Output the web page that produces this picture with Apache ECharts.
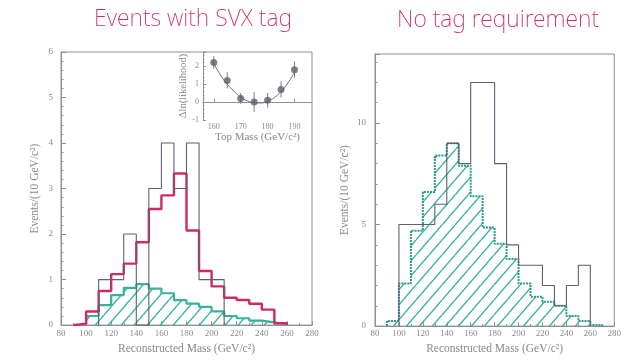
<!DOCTYPE html>
<html>
<head>
<meta charset="utf-8">
<script src="https://cdn.jsdelivr.net/npm/echarts@6/dist/echarts.min.js"></script>
<style>
  html, body { margin: 0; padding: 0; background: #ffffff; }
  #chart { width: 624px; height: 360px; }
</style>
</head>
<body>
<div id="chart"></div>
<script>
// Bin width of every histogram (GeV/c^2)
const BIN = 10;

// Events with an SVX tag: data, signal+background expectation, background
const svxDataStart = 110;
const svxData = [1, 1, 2, 0, 3, 4, 3, 4, 1, 1];
const svxSumStart = 90;
const svxSum = [0.03, 0.3, 0.75, 1.12, 1.35, 1.82, 2.55, 2.85, 3.33, 2.08, 1.19, 0.85, 0.6, 0.55, 0.47, 0.34, 0.04];
const svxBkgStart = 100;
const svxBkg = [0.2, 0.44, 0.66, 0.82, 0.9, 0.8, 0.7, 0.55, 0.47, 0.4, 0.3, 0.2, 0.15, 0.1, 0.06, 0.02];

// Likelihood scan versus top mass
const scanMass = [160, 165, 170, 175, 180, 185, 190];
const scanVal  = [2.2, 1.2, 0.2, 0.0, 0.1, 0.7, 1.8];
const scanErr  = [0.35, 0.45, 0.3, 0.55, 0.4, 0.45, 0.45];
const fitMass  = [160, 162.5, 165, 167.5, 170, 172.5, 175, 177.5, 180, 182.5, 185, 187.5, 190];
const fitVal   = [2.15, 1.5, 1.0, 0.6, 0.28, 0.06, -0.04, -0.05, 0.04, 0.25, 0.58, 1.05, 1.65];

// No tag requirement: data and background
const allDataStart = 100;
const allData = [5, 5, 5, 6, 9, 8, 12, 12, 8, 4, 3, 3, 2, 1, 2, 3];
const allBkgStart = 90;
const allBkg = [0.25, 2.1, 4.7, 6.6, 8.4, 9.0, 7.9, 6.4, 4.85, 4.05, 3.3, 2.1, 1.45, 1.2, 1.0, 0.5, 0.25, 0.05];

// Axis tick values
const massTicks = { min: 80, max: 280, step: 20 };
const scanTicks = [160, 170, 180, 190];

const RED = '#cf2b62';
const TEAL = '#35b39b';
const TEAL_DARK = '#2a9a88';
const OUTLINE = '#5d6072';
const FRAME = '#8d909a';
const TXT = '#8a8a8a';
const SERIF = '"Liberation Serif", "DejaVu Serif", serif';
const HAND = '200 23px "Noto Sans", "DejaVu Sans", sans-serif';

// Turn bin contents into step-line vertices (bin left edges, closed to zero at both ends)
function steps(start, vals) {
  const pts = [[start, 0]];
  vals.forEach((v, i) => pts.push([start + i * BIN, v]));
  pts.push([start + vals.length * BIN, 0]);
  return pts;
}

// Diagonal hatch tile used as an area fill pattern
function hatch(color, w, h, lw) {
  const c = document.createElement('canvas');
  c.width = w; c.height = h;
  const g = c.getContext('2d');
  g.strokeStyle = color;
  g.lineWidth = lw;
  g.beginPath();
  for (const dx of [-w, 0, w]) {
    g.moveTo(dx, h);
    g.lineTo(dx + w, 0);
  }
  g.stroke();
  return c;
}

const tickLabel = { color: TXT, fontFamily: SERIF, fontSize: 9 };
const nameText = { color: TXT, fontFamily: SERIF, fontSize: 11.5 };

function massAxis(gridIndex, labelMargin, nameGap) {
  return {
    type: 'value', gridIndex,
    min: massTicks.min, max: massTicks.max, interval: massTicks.step,
    name: 'Reconstructed Mass (GeV/c²)', nameLocation: 'middle', nameGap,
    nameTextStyle: nameText,
    axisLine: { lineStyle: { color: FRAME, width: 1 } },
    axisTick: { inside: true, length: 4, lineStyle: { color: FRAME } },
    minorTick: { show: true, splitNumber: 2, length: 2, lineStyle: { color: FRAME } },
    axisLabel: Object.assign({ margin: labelMargin }, tickLabel),
    splitLine: { show: false }
  };
}

const chart = echarts.init(document.getElementById('chart'), null, { renderer: 'canvas' });

chart.setOption({
  animation: false,
  backgroundColor: '#ffffff',
  graphic: [
    { type: 'text', x: 193, y: 19, style: { text: 'Events with SVX tag', fill: RED, font: HAND, textAlign: 'center', textVerticalAlign: 'middle' } },
    { type: 'text', x: 498, y: 20, style: { text: 'No tag requirement', fill: RED, font: HAND, textAlign: 'center', textVerticalAlign: 'middle' } }
  ],
  grid: [
    { left: 61, top: 52, width: 251, height: 274, show: true, borderColor: FRAME, borderWidth: 1 },
    { left: 375, top: 54, width: 252, height: 276, show: true, borderColor: FRAME, borderWidth: 1 },
    { left: 203, top: 52, width: 109, height: 68, show: false }
  ],
  xAxis: [
    massAxis(0, 4, 14),
    massAxis(1, 3, 16),
    {
      type: 'value', gridIndex: 2, min: 156, max: 196.5,
      name: 'Top Mass (GeV/c²)', nameLocation: 'middle', nameGap: 12,
      nameTextStyle: { color: TXT, fontFamily: SERIF, fontSize: 11 },
      axisLine: { lineStyle: { color: FRAME } },
      axisTick: { inside: true, length: 3, customValues: scanTicks, lineStyle: { color: FRAME } },
      axisLabel: Object.assign({ margin: 3, customValues: scanTicks }, tickLabel, { fontSize: 8 }),
      splitLine: { show: false }
    }
  ],
  yAxis: [
    {
      type: 'value', gridIndex: 0, min: 0, max: 6, interval: 1,
      name: 'Events/(10 GeV/c²)', nameLocation: 'middle', nameGap: 20, nameRotate: 90,
      nameTextStyle: nameText,
      axisLine: { show: true, lineStyle: { color: FRAME } },
      axisTick: { inside: true, length: 5, lineStyle: { color: FRAME } },
      minorTick: { show: true, splitNumber: 5, length: 2.5, lineStyle: { color: FRAME } },
      axisLabel: Object.assign({ margin: 8 }, tickLabel),
      splitLine: { show: false }
    },
    {
      type: 'value', gridIndex: 1, min: 0, max: 13.4, interval: 5,
      name: 'Events/(10 GeV/c²)', nameLocation: 'middle', nameGap: 24, nameRotate: 90,
      nameTextStyle: nameText,
      axisLine: { show: true, lineStyle: { color: FRAME } },
      axisTick: { inside: true, length: 5, lineStyle: { color: FRAME } },
      minorTick: { show: true, splitNumber: 5, length: 2.5, lineStyle: { color: FRAME } },
      axisLabel: Object.assign({ margin: 9, showMaxLabel: false }, tickLabel),
      splitLine: { show: false }
    },
    {
      type: 'value', gridIndex: 2, min: -1, max: 2.78, interval: 1,
      name: 'Δln(likelihood)', nameLocation: 'middle', nameGap: 12, nameRotate: 90,
      nameTextStyle: { color: TXT, fontFamily: SERIF, fontSize: 10.5 },
      axisLine: { show: true, lineStyle: { color: FRAME } },
      axisTick: { inside: true, length: 3, lineStyle: { color: FRAME } },
      minorTick: { show: true, splitNumber: 5, length: 1.5, lineStyle: { color: FRAME } },
      axisLabel: Object.assign({ margin: 4, showMaxLabel: false }, tickLabel, { fontSize: 8 }),
      splitLine: { show: false }
    }
  ],
  series: [
    // SVX-tagged panel
    {
      type: 'line', xAxisIndex: 0, yAxisIndex: 0, step: 'end', symbol: 'none', z: 2,
      data: steps(svxBkgStart, svxBkg),
      lineStyle: { color: TEAL, width: 2.2 },
      areaStyle: { color: { image: hatch(TEAL, 13, 15, 1.4), repeat: 'repeat' }, opacity: 1 }
    },
    {
      type: 'line', xAxisIndex: 0, yAxisIndex: 0, step: 'end', symbol: 'none', z: 3,
      data: steps(svxSumStart, svxSum),
      lineStyle: { color: RED, width: 2.4 }
    },
    {
      type: 'line', xAxisIndex: 0, yAxisIndex: 0, step: 'end', symbol: 'none', z: 4,
      data: steps(svxDataStart, svxData),
      lineStyle: { color: OUTLINE, width: 1.1 }
    },
    // Inset: likelihood scan
    {
      type: 'line', xAxisIndex: 2, yAxisIndex: 2, smooth: 0.5, symbol: 'none', z: 3,
      data: fitMass.map((m, i) => [m, fitVal[i]]),
      lineStyle: { color: '#6d6f78', width: 1 }
    },
    {
      type: 'custom', xAxisIndex: 2, yAxisIndex: 2, z: 4,
      data: scanMass.map((m, i) => [m, scanVal[i] - scanErr[i], scanVal[i] + scanErr[i]]),
      renderItem: (params, api) => {
        const lo = api.coord([api.value(0), api.value(1)]);
        const hi = api.coord([api.value(0), api.value(2)]);
        return { type: 'line', shape: { x1: lo[0], y1: lo[1], x2: hi[0], y2: hi[1] },
                 style: { stroke: '#7a7c86', lineWidth: 1 } };
      }
    },
    {
      type: 'scatter', xAxisIndex: 2, yAxisIndex: 2, z: 5, symbolSize: 7,
      data: scanMass.map((m, i) => [m, scanVal[i]]),
      itemStyle: { color: '#5e6070' }
    },
    // No-tag panel
    {
      type: 'line', xAxisIndex: 1, yAxisIndex: 1, step: 'end', symbol: 'none', z: 2,
      data: steps(allBkgStart, allBkg),
      lineStyle: { color: TEAL_DARK, width: 2, type: [2, 1] },
      areaStyle: { color: { image: hatch(TEAL, 13, 15, 1.4), repeat: 'repeat' }, opacity: 1 }
    },
    {
      type: 'line', xAxisIndex: 1, yAxisIndex: 1, step: 'end', symbol: 'none', z: 4,
      data: steps(allDataStart, allData),
      lineStyle: { color: OUTLINE, width: 1.1 }
    }
  ]
});
</script>
</body>
</html>
